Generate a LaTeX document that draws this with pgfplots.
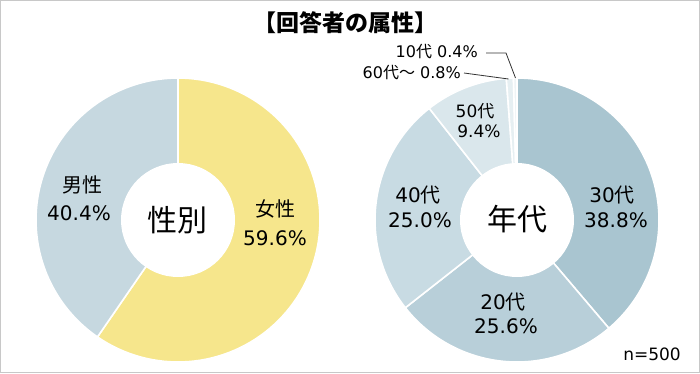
\documentclass[border=0pt]{standalone}
\usepackage{pgfplots}
\pgfplotsset{compat=1.18}
\usepackage{fontspec}
\setmainfont{DejaVu Sans}
\newfontfamily\cjk{Noto Sans CJK JP}
\definecolor{female}{HTML}{F6E68C}
\definecolor{male}{HTML}{C6D8E0}
\definecolor{ageA}{HTML}{A9C5D0}
\definecolor{ageB}{HTML}{B8CFD9}
\definecolor{ageC}{HTML}{C8DBE3}
\definecolor{ageD}{HTML}{DAE7EC}
\definecolor{ageE}{HTML}{E6EFF2}
\definecolor{ageF}{HTML}{EEF4F6}
\definecolor{frame}{HTML}{C8C8C8}
% #1 cx, #2 cy, #3 cumulative start (%), #4 value (%), #5 colour
\newcommand\sector[5]{%
  \pgfmathsetmacro\sa{-90+3.6*#3}%
  \pgfmathsetmacro\sb{-90+3.6*(#3+#4)}%
  \edef\tmp{\noexpand\addplot[fill=#5, draw=white, line width=1.6pt, line join=round, domain=\sa:\sb, samples=90] ({#1+142*cos(x)},{#2+142*sin(x)}) -- (axis cs:#1,#2) -- cycle;}%
  \tmp
}
\begin{document}
\begin{tikzpicture}
\begin{axis}[
  width=700pt, height=373pt, scale only axis,
  xmin=0, xmax=700, ymin=0, ymax=373, y dir=reverse,
  hide axis, clip=false]
% gender: female 59.6, male 40.4
\sector{178}{220}{0}{59.6}{female}
\sector{178}{220}{59.6}{40.4}{male}
% age: 30s 38.8, 20s 25.6, 40s 25.0, 50s 9.4, 60s+ 0.8, 10s 0.4
\sector{517}{220}{0}{38.8}{ageA}
\sector{517}{220}{38.8}{25.6}{ageB}
\sector{517}{220}{64.4}{25.0}{ageC}
\sector{517}{220}{89.4}{9.4}{ageD}
\sector{517}{220}{98.8}{0.8}{ageE}
\sector{517}{220}{99.6}{0.4}{ageF}
\fill[white] (axis cs:178,220) circle[radius=57];
\fill[white] (axis cs:517,220) circle[radius=57];
\draw[frame, line width=1pt] (axis cs:0.5,0.5) rectangle (axis cs:699.5,372.5);
% title
\node[font=\fontsize{23}{23}\selectfont\cjk\bfseries] at (axis cs:345,23) {【回答者の属性】};
% centre labels
\node[font=\fontsize{30}{30}\selectfont\cjk] at (axis cs:177,220) {性別};
\node[font=\fontsize{30}{30}\selectfont\cjk] at (axis cs:517,219) {年代};
% gender labels
\node[font=\fontsize{20}{20}\selectfont\cjk] at (axis cs:82,185) {男性};
\node[font=\fontsize{20}{20}\selectfont] at (axis cs:79,213) {40.4\%};
\node[font=\fontsize{20}{20}\selectfont\cjk] at (axis cs:275,209) {女性};
\node[font=\fontsize{20}{20}\selectfont] at (axis cs:275,238) {59.6\%};
% age labels
\node[font=\fontsize{20}{20}\selectfont] at (axis cs:612,195) {30{\cjk 代}};
\node[font=\fontsize{20}{20}\selectfont] at (axis cs:616,220) {38.8\%};
\node[font=\fontsize{20}{20}\selectfont] at (axis cs:503,302) {20{\cjk 代}};
\node[font=\fontsize{20}{20}\selectfont] at (axis cs:506,326) {25.6\%};
\node[font=\fontsize{20}{20}\selectfont] at (axis cs:418,195) {40{\cjk 代}};
\node[font=\fontsize{20}{20}\selectfont] at (axis cs:420,220) {25.0\%};
\node[font=\fontsize{17}{17}\selectfont] at (axis cs:475,111) {50{\cjk 代}};
\node[font=\fontsize{17}{17}\selectfont] at (axis cs:479,131) {9.4\%};
% small labels with leaders
\node[font=\fontsize{16}{16}\selectfont, anchor=east, inner sep=0pt] at (axis cs:478,52) {10{\cjk 代} 0.4\%};
\node[font=\fontsize{16}{16}\selectfont, anchor=east, inner sep=0pt] at (axis cs:461,73) {60{\cjk 代～} 0.8\%};
\draw[black!80, line width=0.8pt] (axis cs:486,53) -- (axis cs:506,53) -- (axis cs:515.5,78);
\draw[black!80, line width=0.8pt] (axis cs:464,73) -- (axis cs:508.5,79);
\node[font=\fontsize{17}{17}\selectfont] at (axis cs:652,354) {n=500};
\end{axis}
\end{tikzpicture}
\end{document}
